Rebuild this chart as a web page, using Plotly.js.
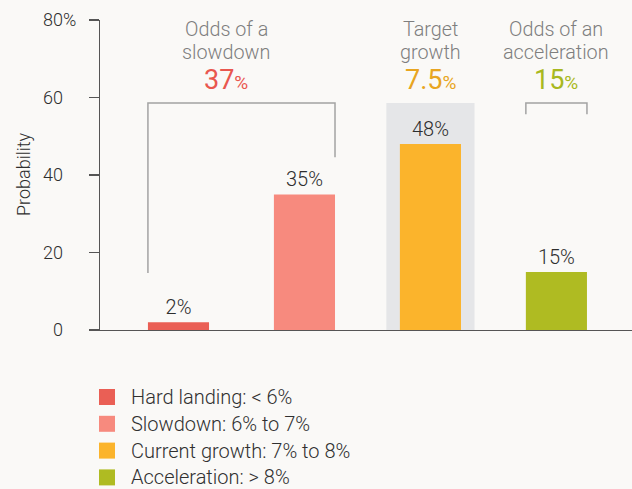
<!DOCTYPE html>
<html>
<head>
<meta charset="utf-8">
<script src="https://cdn.plot.ly/plotly-3.0.1.min.js"></script>
<style>html,body{margin:0;padding:0;background:#faf9f7;}#chart{width:632px;height:489px;}</style>
</head>
<body>
<div id="chart"></div>
<script>
// ---- data ----
const categories = ['Hard landing: < 6%', 'Slowdown: 6% to 7%', 'Current growth: 7% to 8%', 'Acceleration: > 8%'];
const probabilities = [2, 35, 48, 15];
const barLabels = ['2%', '35%', '48%', '15%'];
const barColors = ['#ea5f55', '#f78a7e', '#fbb42c', '#afbb22'];
const headerLine1 = ['Odds of a', 'Target', 'Odds of an'];
const headerLine2 = ['slowdown', 'growth', 'acceleration'];
const headerValues = ['37', '7.5', '15'];
const headerColors = ['#e9574f', '#e8a521', '#a8b820'];
const yTickVals = [0, 20, 40, 60, 80];
const yTickText = ['0', '20', '40', '60', '80%'];

// ---- layout helpers ----
const FONT = 'Roboto, "Liberation Sans", Arial, sans-serif';
const WT = 300;
const L = 100, R = 0, T = 20, B = 159, W = 632, H = 489;
const pw = W - L - R, ph = H - T - B;
const px2x = p => (p - L) / pw;
const py2y = p => (H - B - p) / ph;
const BW = 0.485;
const half = BW / 2;
const bracketTop = 58.6;

const shapes = [];
const annotations = [];

// gray highlight behind target-growth bar
shapes.push({type: 'rect', xref: 'x', yref: 'y', layer: 'below',
  x0: 2 - 0.35, x1: 2 + 0.35, y0: 0, y1: bracketTop,
  fillcolor: '#e5e6e8', line: {width: 0}});

// slowdown bracket (spans hard landing + slowdown bars)
shapes.push({type: 'path', xref: 'x', yref: 'y',
  path: `M ${0 - half} 14.7 L ${0 - half} ${bracketTop} L ${1 + half} ${bracketTop} L ${1 + half} 44.6`,
  line: {color: '#a3a3a3', width: 1.5}});
// acceleration bracket
shapes.push({type: 'path', xref: 'x', yref: 'y',
  path: `M ${3 - half} 55.7 L ${3 - half} ${bracketTop} L ${3 + half} ${bracketTop} L ${3 + half} 55.7`,
  line: {color: '#a3a3a3', width: 1.5}});

// headers
const headerX = [0.38, 2, 3];
headerLine1.forEach((t, i) => {
  annotations.push({xref: 'x', yref: 'paper', x: headerX[i], y: py2y(30), text: t,
    showarrow: false, xanchor: 'center', yanchor: 'middle',
    font: {family: FONT, size: 19.8, color: '#7e7e7e', weight: WT}});
  annotations.push({xref: 'x', yref: 'paper', x: headerX[i], y: py2y(52), text: headerLine2[i],
    showarrow: false, xanchor: 'center', yanchor: 'middle',
    font: {family: FONT, size: 19.8, color: '#7e7e7e', weight: WT}});
  annotations.push({xref: 'x', yref: 'paper', x: headerX[i], y: py2y(80),
    text: headerValues[i] + '<span style="font-size:19px">%</span>',
    showarrow: false, xanchor: 'center', yanchor: 'middle',
    font: {family: FONT, size: 27, color: headerColors[i], weight: 400}});
});

// y-axis title
annotations.push({xref: 'paper', yref: 'paper', x: px2x(23), y: py2y(174), text: 'Probability',
  textangle: -90, showarrow: false, xanchor: 'center', yanchor: 'middle',
  font: {family: FONT, size: 18, color: '#2e2e2e', weight: WT}});

// custom legend
categories.forEach((c, i) => {
  const cy = 397 + i * 26.8;
  shapes.push({type: 'rect', xref: 'paper', yref: 'paper',
    x0: px2x(99), x1: px2x(115), y0: py2y(cy + 8), y1: py2y(cy - 8),
    fillcolor: barColors[i], line: {width: 0}});
  annotations.push({xref: 'paper', yref: 'paper', x: px2x(129), y: py2y(cy), text: c,
    showarrow: false, xanchor: 'left', yanchor: 'middle',
    font: {family: FONT, size: 20, color: '#303030', weight: WT}});
});

const trace = {
  type: 'bar', x: categories, y: probabilities, width: BW,
  marker: {color: barColors, line: {width: 0}},
  text: barLabels, textposition: 'outside', cliponaxis: false,
  textfont: {family: FONT, size: 20, color: '#2e2e2e', weight: WT},
  hoverinfo: 'skip', showlegend: false
};

const layout = {
  width: W, height: H,
  margin: {l: L, r: R, t: T, b: B, pad: 0},
  paper_bgcolor: '#faf9f7', plot_bgcolor: '#faf9f7',
  font: {family: FONT, color: '#333'},
  showlegend: false,
  xaxis: {type: 'category', range: [-0.623, 3.6], showticklabels: false, ticks: '',
    showgrid: false, zeroline: false, showline: true, linecolor: '#555', linewidth: 1.2,
    fixedrange: true},
  yaxis: {range: [0, 80], tickvals: yTickVals,
    ticktext: yTickText.map(t => t.endsWith('%') ? t : t + '<span style="fill:rgba(0,0,0,0)">%</span>'),
    ticks: 'outside', ticklen: 10, tickcolor: '#555', tickwidth: 1.2, ticklabelstandoff: 9,
    showgrid: false, zeroline: false, showline: true, linecolor: '#555', linewidth: 1.2,
    tickfont: {family: FONT, size: 18, color: '#2e2e2e', weight: WT}, fixedrange: true},
  shapes: shapes,
  annotations: annotations,
  bargap: 0.5
};

Plotly.newPlot('chart', [trace], layout, {displayModeBar: false, staticPlot: true});
</script>
</body>
</html>
